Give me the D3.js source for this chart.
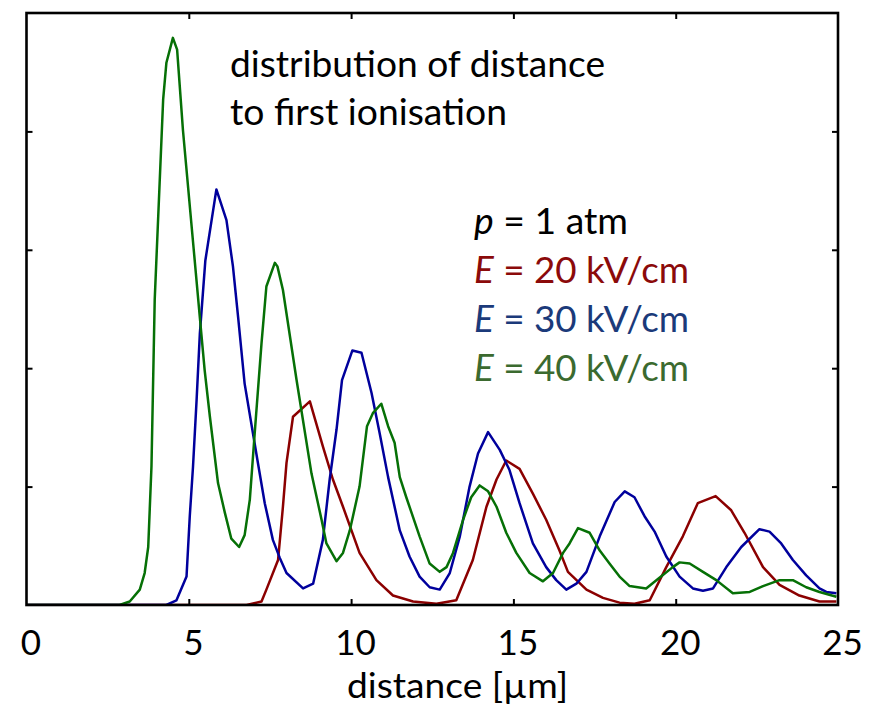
<!DOCTYPE html>
<html>
<head>
<meta charset="utf-8">
<script src="https://cdn.jsdelivr.net/npm/d3@7"></script>
<style>
  html, body { margin: 0; padding: 0; background: #ffffff; }
  svg { display: block; }
  text { font-family: Lato, "Open Sans", "Noto Sans", sans-serif; }
</style>
</head>
<body>
<svg id="chart" width="892" height="706"></svg>
<script>
// ---- data (distance in µm, distribution in arbitrary units) ----
const xTicks = [0, 5, 10, 15, 20, 25];
const yTicks = [1, 2, 3, 4];

const dist20 = [[0,0],[6.78,0],[7.24,0.03],[7.39,0.13],[7.75,0.38],[7.90,0.83],[8.01,1.20],[8.21,1.59],[8.73,1.72],[9.13,1.34],[9.44,1.06],[9.75,0.83],[10.26,0.44],[10.78,0.21],[11.29,0.08],[11.91,0.03],[12.63,0.01],[13.24,0.04],[13.75,0.38],[14.17,0.83],[14.48,1.06],[14.78,1.22],[15.19,1.15],[15.60,0.94],[16.01,0.72],[16.42,0.46],[16.68,0.28],[17.25,0.13],[17.76,0.06],[18.27,0.02],[18.73,0.01],[19.20,0.04],[19.71,0.32],[20.22,0.58],[20.68,0.86],[21.23,0.92],[21.71,0.80],[22.12,0.61],[22.69,0.32],[23.20,0.17],[23.81,0.08],[24.43,0.03],[24.95,0.03]];

const dist30 = [[0,0],[4.31,0],[4.62,0.04],[4.93,0.24],[5.03,0.75],[5.13,1.17],[5.24,1.73],[5.34,2.29],[5.51,2.91],[5.85,3.51],[6.16,3.25],[6.36,2.86],[6.52,2.43],[6.72,1.87],[7.08,1.28],[7.34,0.86],[7.59,0.55],[7.80,0.40],[8.01,0.27],[8.52,0.14],[8.83,0.18],[9.13,0.55],[9.34,1.06],[9.55,1.48],[9.72,1.90],[10.04,2.15],[10.32,2.13],[10.63,1.79],[10.88,1.45],[11.14,1.08],[11.50,0.63],[11.80,0.41],[12.11,0.24],[12.42,0.15],[12.73,0.13],[13.04,0.27],[13.35,0.58],[13.65,1.00],[13.91,1.28],[14.22,1.46],[14.58,1.31],[14.88,1.14],[15.19,0.86],[15.60,0.52],[16.01,0.32],[16.32,0.21],[16.63,0.13],[16.94,0.18],[17.25,0.28],[17.66,0.58],[18.12,0.87],[18.43,0.96],[18.73,0.91],[19.04,0.75],[19.35,0.62],[19.71,0.41],[20.12,0.24],[20.53,0.14],[20.84,0.12],[21.15,0.14],[21.56,0.32],[22.02,0.49],[22.58,0.64],[22.89,0.62],[23.25,0.52],[23.61,0.38],[24.02,0.25],[24.43,0.14],[24.64,0.11],[24.95,0.10]];

const dist40 = [[0,0],[2.87,0],[3.18,0.03],[3.49,0.13],[3.64,0.27],[3.75,0.49],[3.85,1.17],[3.95,2.58],[4.21,4.27],[4.31,4.58],[4.51,4.79],[4.64,4.69],[4.82,4.01],[5.34,2.43],[5.49,1.98],[5.65,1.59],[5.90,1.03],[6.11,0.78],[6.31,0.56],[6.55,0.49],[6.72,0.59],[6.88,0.89],[7.03,1.45],[7.24,2.21],[7.39,2.69],[7.65,2.89],[7.73,2.86],[7.90,2.66],[8.32,1.90],[8.78,1.11],[9.09,0.72],[9.24,0.52],[9.55,0.37],[9.75,0.44],[9.96,0.63],[10.26,1.00],[10.49,1.51],[10.67,1.62],[10.93,1.70],[11.14,1.51],[11.34,1.37],[11.50,1.08],[11.70,0.91],[12.11,0.58],[12.42,0.35],[12.73,0.28],[12.94,0.32],[13.14,0.44],[13.45,0.72],[13.70,0.91],[13.96,1.01],[14.22,0.96],[14.48,0.83],[14.78,0.61],[15.09,0.44],[15.50,0.27],[15.91,0.20],[16.22,0.27],[16.53,0.44],[16.73,0.52],[16.99,0.65],[17.35,0.61],[17.66,0.46],[17.96,0.35],[18.27,0.24],[18.58,0.16],[19.09,0.14],[19.50,0.23],[19.91,0.32],[20.12,0.36],[20.43,0.35],[20.84,0.28],[21.25,0.21],[21.76,0.10],[22.28,0.11],[22.69,0.16],[23.20,0.21],[23.61,0.21],[24.02,0.15],[24.43,0.11],[24.95,0.07]];

const seriesNames = ["E = 20 kV/cm", "E = 30 kV/cm", "E = 40 kV/cm"];
const seriesData = [dist20, dist30, dist40];
const lineColors = ["#8b0000", "#00009c", "#067006"];
const textColors = ["#8b0a0a", "#1b3a7a", "#3b6a2f"];

const titleLines = ["distribution of distance", "to first ionisation"];
const pressureLabel = "1 atm";
const xLabel = "distance [µm]";

// ---- layout ----
const svg = d3.select("#chart");
const L = 26.5, R = 838, T = 13, B = 605;

const x = d3.scaleLinear().domain([0, 25]).range([L, R]);
const y = d3.scaleLinear().domain([0, 5]).range([B, T]);

// curves (drawn first, frame on top)
const line = d3.line().x(d => x(d[0])).y(d => y(d[1]));
const plot = svg.append("g");
plot.append("clipPath").attr("id", "clip")
  .append("rect").attr("x", L).attr("y", T).attr("width", R - L).attr("height", B - T);
const curves = plot.append("g").attr("clip-path", "url(#clip)");
seriesData.forEach((d, i) => {
  curves.append("path")
    .datum(d)
    .attr("fill", "none")
    .attr("stroke", lineColors[i])
    .attr("stroke-width", 2.5)
    .attr("stroke-linejoin", "round")
    .attr("d", line);
});

// axes (ticks inward)
const innerX = xTicks.filter(v => v > 0 && v < 25);
const axBottom = svg.append("g").attr("transform", `translate(0,${B})`)
  .call(d3.axisBottom(x).tickValues(xTicks).tickSize(-6).tickFormat(d3.format("d")));
axBottom.selectAll(".tick line").attr("stroke", "#000").attr("stroke-width", 2)
  .filter(d => d === 0 || d === 25).remove();
axBottom.selectAll(".tick text")
  .attr("y", 50).attr("dy", 0).attr("dx", 4)
  .attr("font-size", 35).attr("fill", "#000")
  .style("font-family", "Lato, 'Open Sans', sans-serif");
axBottom.select(".domain").remove();

const axTop = svg.append("g").attr("transform", `translate(0,${T})`)
  .call(d3.axisTop(x).tickValues(innerX).tickSize(-6).tickFormat(""));
axTop.selectAll(".tick line").attr("stroke", "#000").attr("stroke-width", 2);
axTop.select(".domain").remove();

const axLeft = svg.append("g").attr("transform", `translate(${L},0)`)
  .call(d3.axisLeft(y).tickValues(yTicks).tickSize(-6).tickFormat(""));
axLeft.selectAll(".tick line").attr("stroke", "#000").attr("stroke-width", 2);
axLeft.select(".domain").remove();

const axRight = svg.append("g").attr("transform", `translate(${R},0)`)
  .call(d3.axisRight(y).tickValues(yTicks).tickSize(-6).tickFormat(""));
axRight.selectAll(".tick line").attr("stroke", "#000").attr("stroke-width", 2);
axRight.select(".domain").remove();

// frame
svg.append("rect")
  .attr("x", L).attr("y", T).attr("width", R - L).attr("height", B - T)
  .attr("fill", "none").attr("stroke", "#000").attr("stroke-width", 2.6);

// x-axis title
svg.append("text")
  .attr("x", 457.5).attr("y", 698)
  .attr("text-anchor", "middle")
  .attr("font-size", 35)
  .attr("textLength", 221).attr("lengthAdjust", "spacingAndGlyphs")
  .attr("fill", "#000")
  .text(xLabel);

// annotation
const titleW = [375, 277];
titleLines.forEach((t, i) => {
  svg.append("text")
    .attr("x", 230).attr("y", 77 + i * 48)
    .attr("font-size", 37)
    .attr("textLength", titleW[i]).attr("lengthAdjust", "spacingAndGlyphs")
    .attr("fill", "#000")
    .text(t);
});

// legend
const lx = 474;
const pText = svg.append("text").attr("x", lx).attr("y", 234)
  .attr("font-size", 37).attr("fill", "#000")
  .attr("textLength", 154).attr("lengthAdjust", "spacingAndGlyphs");
pText.append("tspan").attr("font-style", "italic").text("p");
pText.append("tspan").text(" = " + pressureLabel);

seriesNames.forEach((name, i) => {
  const t = svg.append("text").attr("x", lx).attr("y", 283 + i * 49)
    .attr("font-size", 37).attr("fill", textColors[i])
    .attr("textLength", 215).attr("lengthAdjust", "spacingAndGlyphs");
  t.append("tspan").attr("font-style", "italic").text(name.slice(0, 1));
  t.append("tspan").text(name.slice(1));
});
</script>
</body>
</html>
